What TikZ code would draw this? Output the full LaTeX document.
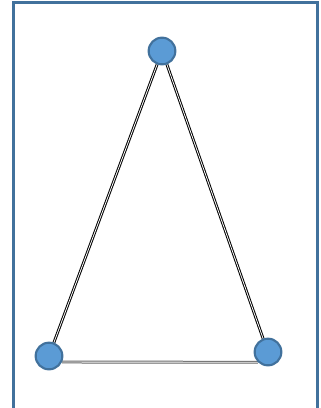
\documentclass[tikz,border=0pt]{standalone}
\usetikzlibrary{backgrounds}
\definecolor{frameblue}{HTML}{41719C}
\definecolor{dotfill}{HTML}{5B9BD5}

\begin{document}
\begin{tikzpicture}[
    x=0.75pt, y=-0.75pt,
    vertex/.style={circle, draw=frameblue, line width=1.6pt, fill=dotfill,
                   minimum size=20pt, inner sep=0pt},
    edge/.style={draw=black, double=white, double distance=0.6pt, line width=0.75pt}
]
    \useasboundingbox (0,0) rectangle (321,408);
    \draw[frameblue, line width=2.2pt] (13.5,409) |- (317.5,2.5) -- (317.5,409);
    \node[vertex] (apex)  at (162,51)  {};
    \node[vertex] (left)  at (49,356)  {};
    \node[vertex] (right) at (268,352) {};
    \begin{pgfonlayer}{background}
        \draw[edge] (apex.250) -- (left.70);
        \draw[edge] (apex.290) -- (right.110);
        \draw[edge, draw=black!60] (left.335) -- (right.225);
    \end{pgfonlayer}
\end{tikzpicture}
\end{document}
